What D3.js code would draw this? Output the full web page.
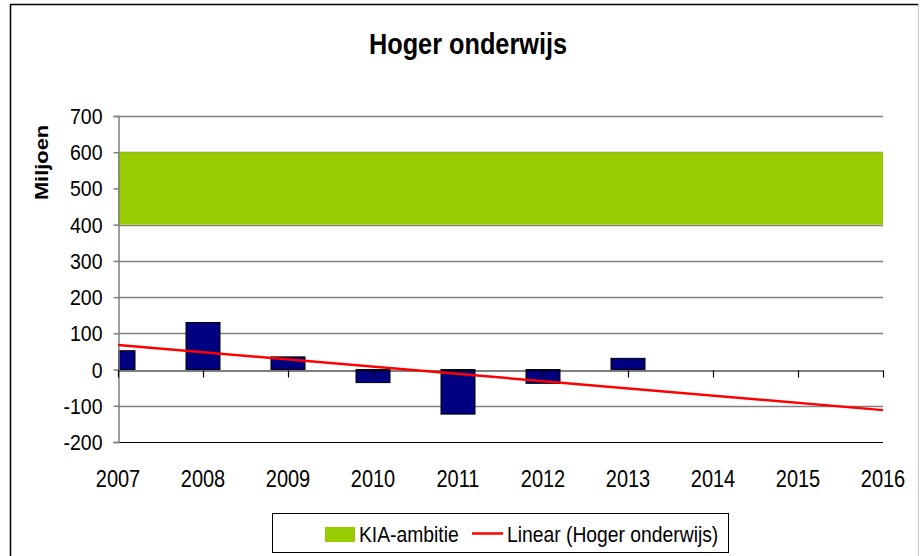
<!DOCTYPE html>
<html>
<head>
<meta charset="utf-8">
<script src="https://cdn.jsdelivr.net/npm/d3@7"></script>
<style>
  body { margin: 0; background: #fff; }
  svg { display: block; font-family: "Liberation Sans", Arial, sans-serif; }
</style>
</head>
<body>
<div id="chart"></div>
<script>
var years = [2007, 2008, 2009, 2010, 2011, 2012, 2013, 2014, 2015, 2016];
var barYears = [2007, 2008, 2009, 2010, 2011, 2012, 2013];
var barValues = [52, 130, 35, -36, -123, -38, 31];
var kiaBand = [400, 600];
var trendYears = [2007, 2016];
var trendValues = [68, -112];
var yTicks = [-200, -100, 0, 100, 200, 300, 400, 500, 600, 700];

var W = 920, H = 556;
var plot = {left: 118, right: 883, top: 116, bottom: 442};
var stretch = 1.17; // text in the original is a bit taller than wide

var svg = d3.select("#chart").append("svg")
    .attr("width", W)
    .attr("height", H);

// helper: horizontal text, stretched vertically around its baseline
function label(g, tx, ty, str, size, anchor, weight){
    return g.append("text")
        .attr("transform", "translate(" + tx + "," + ty + ") scale(1," + stretch + ")")
        .attr("text-anchor", anchor || "start")
        .attr("font-size", size)
        .attr("font-weight", weight || "normal")
        .text(str);
}

// outer chart frame
svg.append("line").attr("x1", 10.5).attr("x2", 10.5).attr("y1", 4).attr("y2", H)
    .attr("stroke", "#000").attr("stroke-width", 1.5);
svg.append("line").attr("x1", 10).attr("x2", 918).attr("y1", 4.5).attr("y2", 4.5)
    .attr("stroke", "#000").attr("stroke-width", 1.5);
svg.append("line").attr("x1", 918.5).attr("x2", 918.5).attr("y1", 4).attr("y2", H)
    .attr("stroke", "#ccc").attr("stroke-width", 1);

var x = d3.scaleLinear().domain([2007, 2016]).range([plot.left, plot.right]);
var y = d3.scaleLinear().domain([-200, 700]).range([plot.bottom, plot.top]);

svg.append("defs").append("clipPath").attr("id", "plotclip")
  .append("rect")
    .attr("x", plot.left).attr("y", plot.top)
    .attr("width", plot.right - plot.left).attr("height", plot.bottom - plot.top);

// gridlines
svg.append("g").selectAll("line")
    .data(yTicks.filter(function(d){ return d !== 0 && d !== -200; }))
  .enter().append("line")
    .attr("x1", plot.left).attr("x2", plot.right)
    .attr("y1", function(d){ return Math.round(y(d)) + 0.5; })
    .attr("y2", function(d){ return Math.round(y(d)) + 0.5; })
    .attr("stroke", "#808080").attr("stroke-width", 1.5);

svg.append("line")
    .attr("x1", plot.left).attr("x2", plot.right)
    .attr("y1", Math.round(y(-200)) + 0.5).attr("y2", Math.round(y(-200)) + 0.5)
    .attr("stroke", "#000").attr("stroke-width", 1);

// KIA band
svg.append("rect")
    .attr("x", plot.left)
    .attr("y", y(kiaBand[1]))
    .attr("width", plot.right - plot.left)
    .attr("height", y(kiaBand[0]) - y(kiaBand[1]))
    .attr("fill", "#99cc00");

// bars
var barW = (x(2008) - x(2007)) * 0.4;
svg.append("g").attr("clip-path", "url(#plotclip)")
    .selectAll("rect")
    .data(barValues)
  .enter().append("rect")
    .attr("x", function(d, i){ return x(barYears[i]) - barW / 2; })
    .attr("y", function(d){ return y(Math.max(0, d)); })
    .attr("width", barW)
    .attr("height", function(d){ return Math.abs(y(d) - y(0)); })
    .attr("fill", "#000080")
    .attr("stroke", "#000")
    .attr("stroke-width", 1);

// y axis (plain hyphen for negatives, like the original)
var yAxis = d3.axisLeft(y).tickValues(yTicks)
    .tickFormat(function(d){ return String(d); })
    .tickSize(5).tickPadding(11);
var gy = svg.append("g")
    .attr("transform", "translate(" + (plot.left + 0.5) + ",0)")
    .call(yAxis);
gy.select(".domain").attr("stroke", "#808080").attr("stroke-width", 1.5);
gy.selectAll(".tick line").attr("stroke", "#808080").attr("stroke-width", 1.5);
gy.selectAll("text")
    .attr("font-size", 19.5).attr("fill", "#000")
    .attr("font-family", "'Liberation Sans', Arial, sans-serif")
    .attr("dy", "0.33em")
    .attr("transform", "scale(1," + stretch + ")");

// x axis on zero line
var xAxis = d3.axisBottom(x).tickValues(years).tickFormat(d3.format("d")).tickSize(7).tickSizeOuter(0);
var gx = svg.append("g")
    .attr("transform", "translate(0," + (Math.round(y(0)) + 0.5) + ")")
    .call(xAxis);
gx.select(".domain").attr("stroke", "#000").attr("stroke-width", 1.2);
gx.selectAll(".tick line").attr("stroke", "#000").attr("stroke-width", 1.2);
gx.selectAll("text").remove();

// x labels below plot
var gxl = svg.append("g");
years.forEach(function(d){
    label(gxl, x(d), 486.5, d, 20, "middle");
});

// trend line
svg.append("line")
    .attr("x1", x(trendYears[0])).attr("y1", y(trendValues[0]))
    .attr("x2", x(trendYears[1])).attr("y2", y(trendValues[1]))
    .attr("stroke", "#ff0000").attr("stroke-width", 2.5);

// title
label(svg, 468, 53.5, "Hoger onderwijs", 25.3, "middle", "bold");

// y axis title
svg.append("text")
    .attr("transform", "translate(47.5,162.5) rotate(-90) scale(1.15,1)")
    .attr("text-anchor", "middle")
    .attr("font-size", 19).attr("font-weight", "bold")
    .text("Miljoen");

// legend
var lg = svg.append("g");
lg.append("rect")
    .attr("x", 272.5).attr("y", 513.5).attr("width", 456).attr("height", 39)
    .attr("fill", "#fff").attr("stroke", "#000").attr("stroke-width", 1);
lg.append("rect")
    .attr("x", 325).attr("y", 527).attr("width", 30).attr("height", 15)
    .attr("fill", "#99cc00");
label(lg, 359, 541.5, "KIA-ambitie", 19.3);
lg.append("line")
    .attr("x1", 472).attr("x2", 503).attr("y1", 533.5).attr("y2", 533.5)
    .attr("stroke", "#ff0000").attr("stroke-width", 2.5);
label(lg, 507, 541.5, "Linear (Hoger onderwijs)", 19.3);
</script>
</body>
</html>
